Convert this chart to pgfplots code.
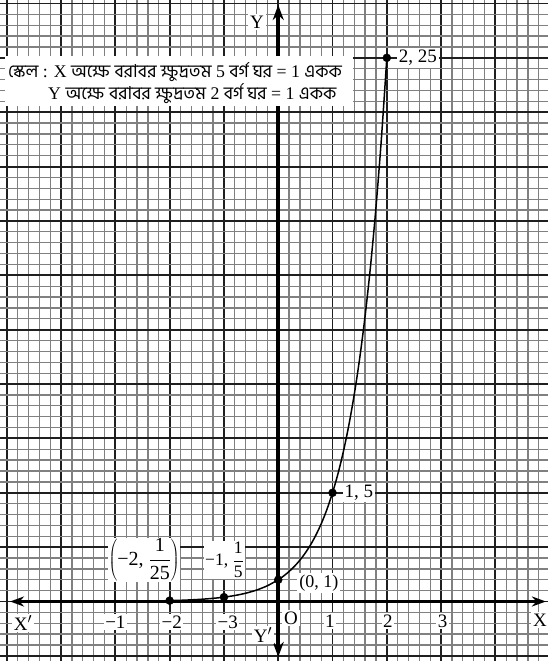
\documentclass[border=0pt]{standalone}
\usepackage{pgfplots}
\pgfplotsset{compat=1.18}
\usepackage{fontspec}
\setmainfont{Liberation Serif}
\newfontfamily\bn[Script=Bengali]{Hind Siliguri}
\usetikzlibrary{arrows.meta}

\newcommand\lblfont{\fontsize{19}{19}\selectfont}

\begin{document}
\begin{tikzpicture}
\begin{axis}[
  x=54.3pt, y=21.75pt,
  xmin=-5.125, xmax=4.967, ymin=-2.736, ymax=27.66,
  axis line style={draw=none},
  xtick={-5,...,5}, ytick={-2.5,0,...,27.5},
  minor x tick num=4, minor y tick num=4,
  grid=both,
  major grid style={black!88, line width=1.9pt},
  minor grid style={black!50, line width=1.3pt},
  major tick length=0pt, minor tick length=0pt,
  xticklabels={}, yticklabels={},
  clip=true,
]
% coordinate axes
\draw[line width=3.3pt, {Stealth[length=14pt,width=10pt]}-{Stealth[length=14pt,width=10pt]}]
  (-4.94,0) -- (4.93,0);
\draw[line width=3.8pt, {Stealth[length=15pt,width=11pt]}-{Stealth[length=15pt,width=11pt]}]
  (0,-2.55) -- (0,27.43);

% y = 5^x
\addplot[black, line width=1.5pt, smooth] coordinates {
  (-2.3,0.02469) (-2.2,0.02899) (-2.0,0.04) (-1.8,0.05519) (-1.6,0.07615)
  (-1.4,0.10506) (-1.2,0.14496) (-1.0,0.2) (-0.8,0.27595) (-0.6,0.38073)
  (-0.4,0.52530) (-0.2,0.72478) (0,1) (0.1,1.17462) (0.2,1.37973)
  (0.3,1.62066) (0.4,1.90365) (0.5,2.23607) (0.6,2.62653) (0.7,3.08516)
  (0.8,3.62390) (0.9,4.25669) (1.0,5) (1.1,5.87310) (1.2,6.89865)
  (1.3,8.10328) (1.4,9.51826) (1.5,11.18034) (1.6,13.13264) (1.7,15.42582)
  (1.8,18.11951) (1.9,21.28347) (2.0,25)
};
\addplot[only marks, mark=*, mark size=4pt, black] coordinates {
  (-2,0.04) (-1,0.2) (0,1) (1,5) (2,25)
};

% point labels
\node[fill=white, inner sep=2pt, anchor=west, font=\lblfont] at (2.18,25) {2, 25};
\node[fill=white, inner sep=2pt, anchor=west, font=\lblfont] at (1.18,5) {1, 5};
\node[fill=white, inner sep=2pt, font=\fontsize{18}{18}\selectfont] at (0.75,0.85) {(0, 1)};
\node[fill=white, inner sep=0.5pt, font=\fontsize{20}{20}\selectfont] at (-2.47,1.91)
  {$\displaystyle\left(\mbox{−2, }\frac{\mbox{1}}{\mbox{25}}\right)$};
\node[fill=white, inner sep=1.5pt, font=\fontsize{17.5}{17.5}\selectfont] at (-0.99,1.91)
  {\mbox{−1, }$\displaystyle\frac{\mbox{1}}{\mbox{5}}$};

% axis names and unit marks
\node[fill=white, inner sep=2pt, font=\lblfont] at (-0.39,26.64) {Y};
\node[fill=white, inner sep=2pt, font=\lblfont] at (-0.28,-1.54) {Y$'$};
\node[fill=white, inner sep=2pt, font=\lblfont] at (-4.70,-0.99) {X$'$};
\node[fill=white, inner sep=2pt, font=\lblfont] at (4.82,-0.85) {X};
\node[fill=white, inner sep=2pt, font=\lblfont] at (0.234,-0.76) {O};
\node[fill=white, inner sep=1.5pt, font=\lblfont] at (0.95,-0.90) {1};
\node[fill=white, inner sep=1.5pt, font=\lblfont] at (2.02,-0.90) {2};
\node[fill=white, inner sep=1.5pt, font=\lblfont] at (3.03,-0.90) {3};
\node[fill=white, inner sep=1.5pt, font=\lblfont] at (-3.0,-0.95) {−1};
\node[fill=white, inner sep=1.5pt, font=\lblfont] at (-1.96,-0.95) {−2};
\node[fill=white, inner sep=1.5pt, font=\lblfont] at (-0.93,-0.95) {−3};

% scale note
\fill[white] (-5.033,22.78) rectangle (1.376,25.08);
\node[anchor=west, inner sep=0pt, font=\fontsize{17.8}{17.8}\selectfont] at (-4.978,24.34)
  {{\bn স্কেল} : X {\bn অক্ষে বরাবর ক্ষুদ্রতম} 5 {\bn বর্গ ঘর} = 1 {\bn একক}};
\node[anchor=west, inner sep=0pt, font=\fontsize{17.8}{17.8}\selectfont] at (-4.24,23.36)
  {Y {\bn অক্ষে বরাবর ক্ষুদ্রতম} 2 {\bn বর্গ ঘর} = 1 {\bn একক}};
\end{axis}
\pgfresetboundingbox
\useasboundingbox (current axis.south west) rectangle (current axis.north east);
\end{tikzpicture}
\end{document}
